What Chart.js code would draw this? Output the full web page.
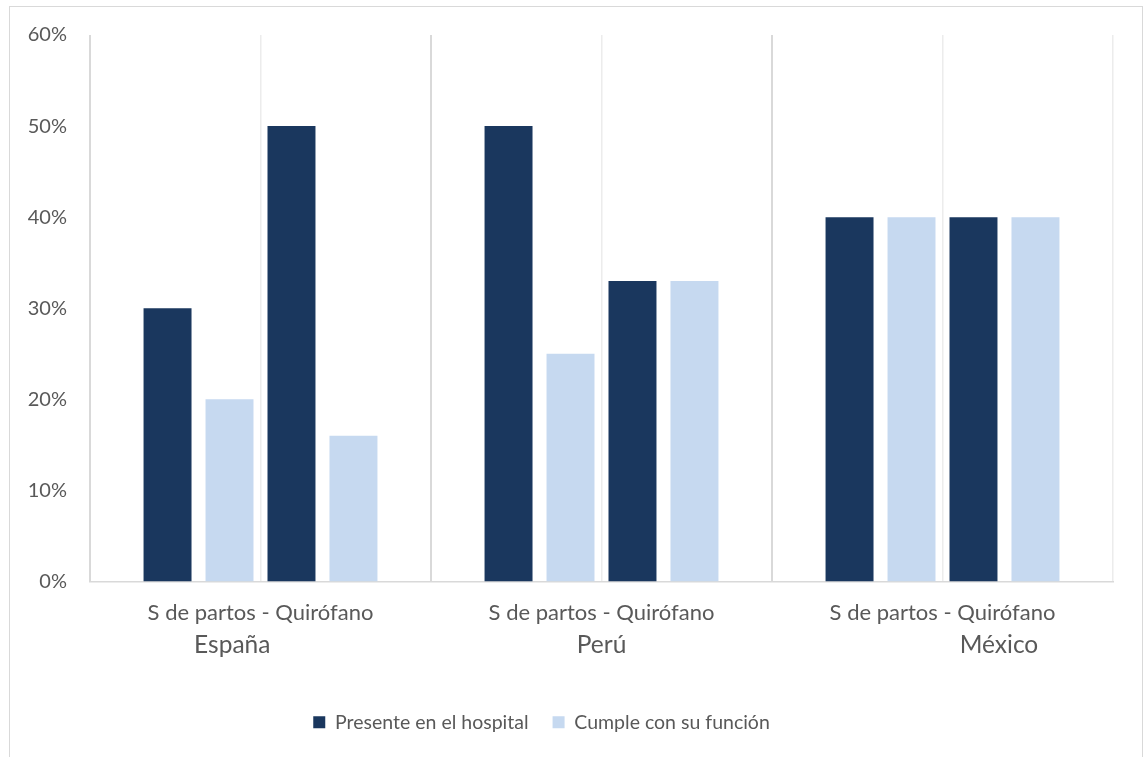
<!DOCTYPE html>
<html><head><meta charset="utf-8">
<script src="https://cdn.jsdelivr.net/npm/chart.js@4"></script>
<style>
html,body{margin:0;padding:0;background:#fff;overflow:hidden}
#frame{position:absolute;left:9px;top:6px;width:1134px;height:800px;border:1px solid #d9d9d9;box-sizing:border-box}
#wrap{position:absolute;left:0;top:0;width:1132px;height:750px}
</style></head><body>
<div id="frame"><div id="wrap"><canvas id="c"></canvas></div></div>
<script>
const countries = ['España', 'Perú', 'México'];
const subLabel = 'S de partos - Quirófano';
const seriesNames = ['Presente en el hospital', 'Cumple con su función'];
const presentePartos = [30, 50, 40];
const cumplePartos = [20, 25, 40];
const presenteQuirofano = [50, 33, 40];
const cumpleQuirofano = [16, 33, 40];
const yTickValues = [0, 10, 20, 30, 40, 50, 60];
const subCategories = ['S de partos', 'Quirófano'];

const DARK = '#1a375e', LIGHT = '#c6d9f0';
const FONT = 'Lato, "Open Sans", sans-serif';
// visual offsets of the country line (as in the original)
const countryLine = (c, i) => i === 0 ? c + ' '.repeat(9) : (i === 2 ? ' '.repeat(18) + c : c);

const common = {categoryPercentage: 0.727, barPercentage: 0.774, borderWidth: 0, xAxisID: 'x', yAxisID: 'y'};
const chart = new Chart(document.getElementById('c'), {
  type: 'bar',
  data: {
    labels: countries,
    datasets: [
      {...common, label: seriesNames[0], data: presentePartos, backgroundColor: DARK},
      {...common, label: seriesNames[1], data: cumplePartos, backgroundColor: LIGHT},
      {...common, label: seriesNames[0], data: presenteQuirofano, backgroundColor: DARK},
      {...common, label: seriesNames[1], data: cumpleQuirofano, backgroundColor: LIGHT}
    ]
  },
  options: {
    responsive: true,
    maintainAspectRatio: false,
    animation: false,
    layout: {padding: {left: 0, right: 29, top: 28, bottom: 15}},
    plugins: {
      tooltip: {enabled: false},
      legend: {
        position: 'bottom',
        labels: {
          font: {family: FONT, size: 19.5},
          color: '#595959',
          boxWidth: 12,
          boxHeight: 12,
          padding: 24,
          filter: item => item.datasetIndex < 2,
          generateLabels: ch => {
            const items = Chart.defaults.plugins.legend.labels.generateLabels(ch);
            items.forEach(it => { if (it.datasetIndex === 1) it.text = it.text + ' '.repeat(8); });
            return items;
          }
        }
      }
    },
    scales: {
      x: {
        type: 'category',
        position: 'bottom',
        weight: 0,
        offset: true,
        grid: {display: false, drawTicks: false},
        border: {display: true, color: '#d9d9d9', width: 1.5},
        ticks: {
          font: {family: FONT, size: 22},
          color: '#595959',
          padding: 18,
          maxRotation: 0,
          autoSkip: false,
          callback: () => subLabel
        },
        afterFit: s => { s.height = 46; }
      },
      x3: {
        type: 'category',
        position: 'bottom',
        weight: 1,
        labels: countries,
        offset: true,
        grid: {display: false, drawTicks: false},
        border: {display: false},
        ticks: {
          font: {family: FONT, size: 24.5},
          color: '#595959',
          padding: 3,
          maxRotation: 0,
          autoSkip: false,
          callback: (v, i) => countryLine(countries[i], i)
        },
        afterFit: s => { s.height = 61; }
      },
      x2: {
        type: 'category',
        position: 'bottom',
        weight: -1,
        labels: countries.flatMap(c => subCategories.map(s => c + ' ' + s)),
        offset: true,
        grid: {
          offset: true,
          drawTicks: false,
          color: ctx => ctx.index % 2 === 0 ? '#d9d9d9' : '#ececec',
          lineWidth: ctx => ctx.index % 2 === 0 ? 2 : 1.5
        },
        border: {display: false},
        ticks: {display: false},
        afterFit: s => { s.height = 0; }
      },
      y: {
        min: 0,
        max: 60,
        afterBuildTicks: s => { s.ticks = yTickValues.map(v => ({value: v})); },
        grid: {display: false, drawTicks: true, tickLength: 20},
        border: {display: false},
        ticks: {
          font: {family: FONT, size: 20},
          color: '#595959',
          padding: 3,
          callback: v => v + '%'
        },
        afterFit: s => { s.width = 80; }
      }
    }
  }
});
</script>
</body></html>
